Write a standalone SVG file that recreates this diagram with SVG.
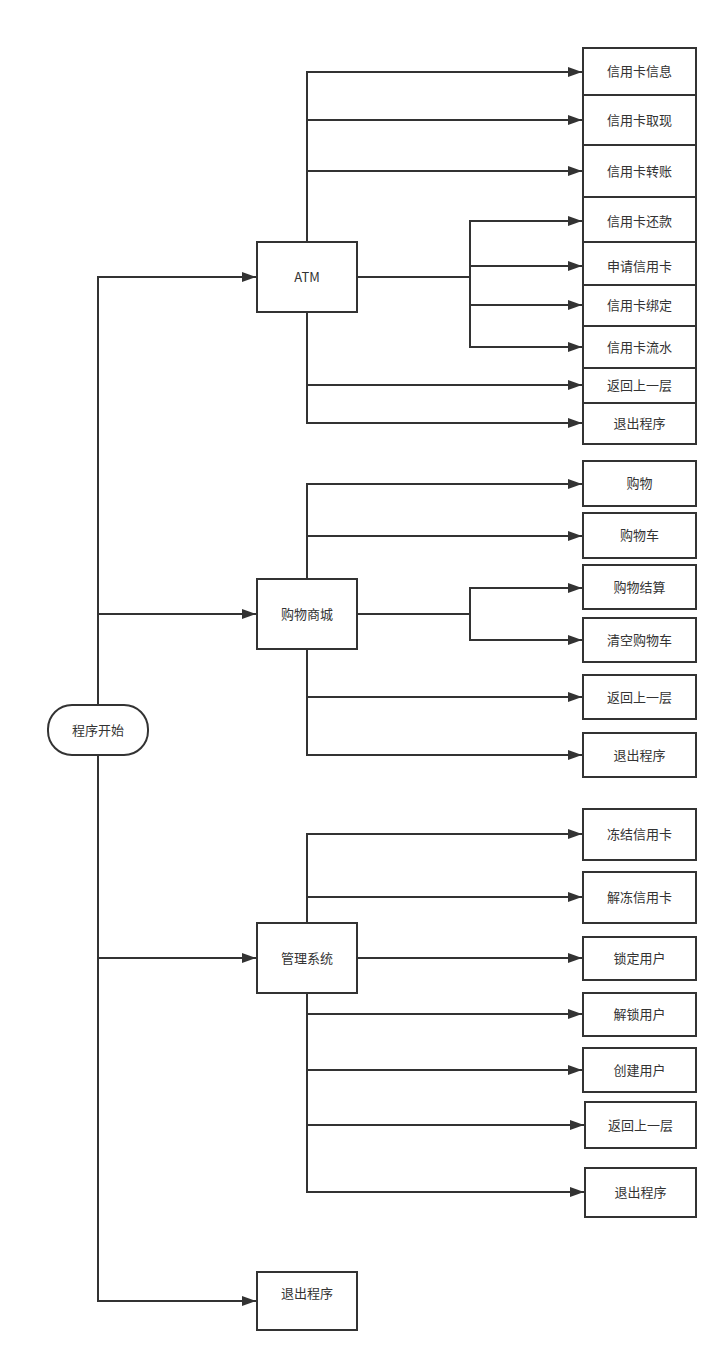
<svg xmlns="http://www.w3.org/2000/svg" width="728" height="1362" viewBox="0 0 728 1362">
<style>
.n{fill:#fff;stroke:#333;stroke-width:2}
.t{font-family:"Noto Sans CJK SC","Liberation Sans",sans-serif;font-size:13px;fill:#333;text-anchor:middle;dominant-baseline:central}
.c{fill:none;stroke:#333;stroke-width:2}
</style>
<defs>
<marker id="a" viewBox="0 0 14 10" refX="14" refY="5" markerWidth="14" markerHeight="10" markerUnits="userSpaceOnUse" orient="auto">
<path d="M0,0 L14,5 L0,10 Z" fill="#333"/>
</marker>
</defs>
<rect width="728" height="1362" fill="#fff"/>
<g id="connectors">
<path class="c" d="M98,705 V277 H256" marker-end="url(#a)"/>
<path class="c" d="M98,614 H256" marker-end="url(#a)"/>
<path class="c" d="M98,755 V1301 H256" marker-end="url(#a)"/>
<path class="c" d="M98,958 H256" marker-end="url(#a)"/>
<path class="c" d="M307,242 V72 H582" marker-end="url(#a)"/>
<path class="c" d="M307,120 H582" marker-end="url(#a)"/>
<path class="c" d="M307,171 H582" marker-end="url(#a)"/>
<path class="c" d="M307,312 V423 H582" marker-end="url(#a)"/>
<path class="c" d="M307,385 H582" marker-end="url(#a)"/>
<path class="c" d="M357,277 H470"/>
<path class="c" d="M470,277 V221 H582" marker-end="url(#a)"/>
<path class="c" d="M470,266 H582" marker-end="url(#a)"/>
<path class="c" d="M470,277 V347 H582" marker-end="url(#a)"/>
<path class="c" d="M470,305 H582" marker-end="url(#a)"/>
<path class="c" d="M307,579 V484 H582" marker-end="url(#a)"/>
<path class="c" d="M307,536 H582" marker-end="url(#a)"/>
<path class="c" d="M307,649 V755 H582" marker-end="url(#a)"/>
<path class="c" d="M307,697 H582" marker-end="url(#a)"/>
<path class="c" d="M357,614 H470"/>
<path class="c" d="M470,614 V588 H582" marker-end="url(#a)"/>
<path class="c" d="M470,614 V640 H582" marker-end="url(#a)"/>
<path class="c" d="M307,923 V834 H582" marker-end="url(#a)"/>
<path class="c" d="M307,897 H582" marker-end="url(#a)"/>
<path class="c" d="M357,958 H582" marker-end="url(#a)"/>
<path class="c" d="M307,993 V1192 H584" marker-end="url(#a)"/>
<path class="c" d="M307,1014 H582" marker-end="url(#a)"/>
<path class="c" d="M307,1070 H582" marker-end="url(#a)"/>
<path class="c" d="M307,1125 H584" marker-end="url(#a)"/>
</g>
<g id="start"><rect class="n" x="48" y="705" width="100" height="50" rx="24"/><text class="t" x="98" y="729">程序开始</text></g>
<g id="atm"><rect class="n" x="257" y="242" width="100" height="70"/><text class="t" x="307" y="276">ATM</text></g>
<g id="shop"><rect class="n" x="257" y="579" width="100" height="70"/><text class="t" x="307" y="613">购物商城</text></g>
<g id="admin"><rect class="n" x="257" y="923" width="100" height="70"/><text class="t" x="307" y="957">管理系统</text></g>
<g id="exit"><rect class="n" x="257" y="1272" width="100" height="58"/><text class="t" x="307" y="1292">退出程序</text></g>
<g id="a1"><rect class="n" x="583" y="48" width="113" height="47"/><text class="t" x="639.5" y="70">信用卡信息</text></g>
<g id="a2"><rect class="n" x="583" y="95" width="113" height="50"/><text class="t" x="639.5" y="119">信用卡取现</text></g>
<g id="a3"><rect class="n" x="583" y="145" width="113" height="52"/><text class="t" x="639.5" y="170">信用卡转账</text></g>
<g id="a4"><rect class="n" x="583" y="197" width="113" height="45"/><text class="t" x="639.5" y="220">信用卡还款</text></g>
<g id="a5"><rect class="n" x="583" y="242" width="113" height="43"/><text class="t" x="639.5" y="265">申请信用卡</text></g>
<g id="a6"><rect class="n" x="583" y="285" width="113" height="41"/><text class="t" x="639.5" y="304">信用卡绑定</text></g>
<g id="a7"><rect class="n" x="583" y="326" width="113" height="42"/><text class="t" x="639.5" y="346">信用卡流水</text></g>
<g id="a8"><rect class="n" x="583" y="368" width="113" height="35"/><text class="t" x="639.5" y="384">返回上一层</text></g>
<g id="a9"><rect class="n" x="583" y="403" width="113" height="41"/><text class="t" x="639.5" y="422">退出程序</text></g>
<g id="s1"><rect class="n" x="583" y="461" width="113" height="45"/><text class="t" x="639.5" y="482">购物</text></g>
<g id="s2"><rect class="n" x="583" y="513" width="113" height="45"/><text class="t" x="639.5" y="534">购物车</text></g>
<g id="s3"><rect class="n" x="583" y="565" width="113" height="44"/><text class="t" x="639.5" y="586">购物结算</text></g>
<g id="s4"><rect class="n" x="583" y="618" width="113" height="44"/><text class="t" x="639.5" y="639">清空购物车</text></g>
<g id="s5"><rect class="n" x="583" y="675" width="113" height="44"/><text class="t" x="639.5" y="696">返回上一层</text></g>
<g id="s6"><rect class="n" x="583" y="733" width="113" height="44"/><text class="t" x="639.5" y="754">退出程序</text></g>
<g id="m1"><rect class="n" x="583" y="809" width="113" height="51"/><text class="t" x="639.5" y="833">冻结信用卡</text></g>
<g id="m2"><rect class="n" x="583" y="872" width="113" height="51"/><text class="t" x="639.5" y="896">解冻信用卡</text></g>
<g id="m3"><rect class="n" x="583" y="937" width="113" height="43"/><text class="t" x="639.5" y="957">锁定用户</text></g>
<g id="m4"><rect class="n" x="583" y="993" width="113" height="43"/><text class="t" x="639.5" y="1013">解锁用户</text></g>
<g id="m5"><rect class="n" x="583" y="1048" width="113" height="44"/><text class="t" x="639.5" y="1069">创建用户</text></g>
<g id="m6"><rect class="n" x="585" y="1102" width="111" height="46"/><text class="t" x="640.5" y="1124">返回上一层</text></g>
<g id="m7"><rect class="n" x="585" y="1168" width="111" height="49"/><text class="t" x="640.5" y="1191">退出程序</text></g>
</svg>
